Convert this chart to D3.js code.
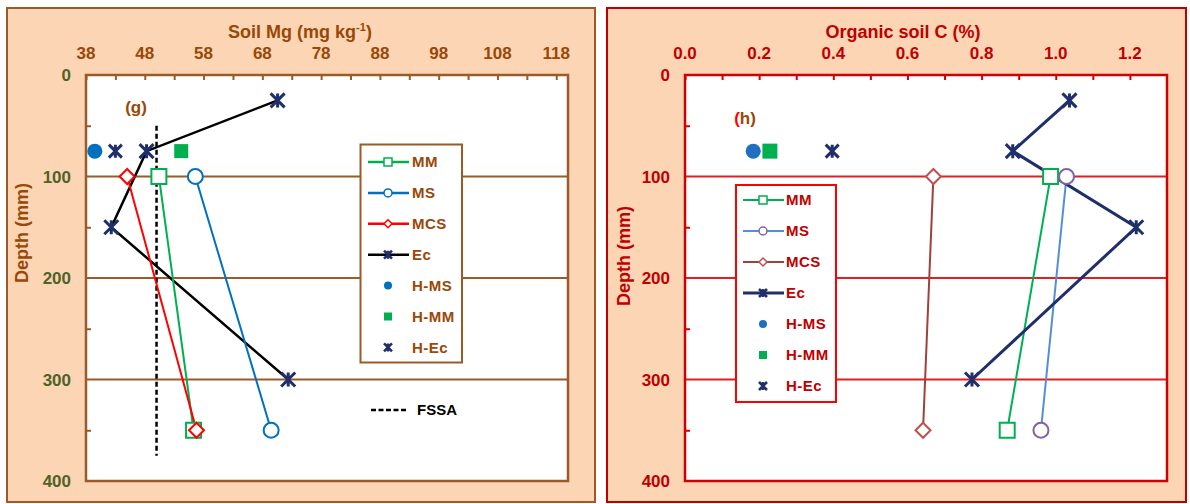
<!DOCTYPE html>
<html><head><meta charset="utf-8">
<script src="https://cdn.jsdelivr.net/npm/d3@7"></script>
<style>
body{margin:0;background:#fff}
svg{display:block}
text{font-family:"Liberation Sans",Arial,sans-serif;font-weight:bold}
</style>
</head><body>
<svg id="c" width="1190" height="504"></svg>
<script>
// ---------- data ----------
const depthTicks = [0, 100, 200, 300, 400];
const mgTicks = [38, 48, 58, 68, 78, 88, 98, 108, 118];
const cTicks = [0.0, 0.2, 0.4, 0.6, 0.8, 1.0, 1.2];

const ecDepths = [25, 75, 150, 300];
const pairDepths = [100, 350];
const hDepth = 75;

// Panel (g): Soil Mg (mg kg-1)
const mgEc  = [70.6, 48.3, 42.3, 72.4];
const mgMM  = [50.4, 56.3];
const mgMS  = [56.6, 69.5];
const mgMCS = [45.0, 56.8];
const mgHMS = [39.5];
const mgHMM = [54.2];
const mgHEc = [43.0];
const fssaValue = 50;
const fssaDepths = [50, 375];

// Panel (h): Organic soil C (%)
const cEc  = [1.037, 0.884, 1.217, 0.774];
const cMM  = [0.986, 0.869];
const cMS  = [1.029, 0.960];
const cMCS = [0.670, 0.642];
const cHMS = [0.184];
const cHMM = [0.229];
const cHEc = [0.397];

const legendNames = ["MM", "MS", "MCS", "Ec", "H-MS", "H-MM", "H-Ec"];

// ---------- drawing ----------
const svg = d3.select("#c");

function starPath(s){ return `M${-s},${-s}L${s},${s}M${-s},${s}L${s},${-s}M0,${-s}L0,${s}`; }

function marker(g, type, x, y, size, stroke, fill, sw){
  if(type==="square"){
    g.append("rect").attr("x",x-size/2).attr("y",y-size/2).attr("width",size).attr("height",size)
      .attr("fill",fill).attr("stroke",stroke).attr("stroke-width",sw);
  } else if(type==="circle"){
    g.append("circle").attr("cx",x).attr("cy",y).attr("r",size/2)
      .attr("fill",fill).attr("stroke",stroke).attr("stroke-width",sw);
  } else if(type==="diamond"){
    const s=size/2;
    g.append("path").attr("d",`M${x},${y-s}L${x+s},${y}L${x},${y+s}L${x-s},${y}Z`)
      .attr("fill",fill).attr("stroke",stroke).attr("stroke-width",sw);
  } else if(type==="star"){
    g.append("path").attr("transform",`translate(${x},${y})`).attr("d",starPath(size/2))
      .attr("fill","none").attr("stroke",stroke).attr("stroke-width",sw);
  }
}

function panel(cfg){
  const g = svg.append("g");
  g.append("rect").attr("x",cfg.ox0).attr("y",8).attr("width",cfg.ox1-cfg.ox0).attr("height",494)
    .attr("fill","#FCD5B5").attr("stroke",cfg.outer).attr("stroke-width",2);
  const x = d3.scaleLinear().domain(cfg.xDomain).range([cfg.px0, cfg.px1]);
  const y = d3.scaleLinear().domain([0,400]).range([75,481]);
  g.append("rect").attr("x",cfg.px0).attr("y",75).attr("width",cfg.px1-cfg.px0).attr("height",406)
    .attr("fill","#fff");
  g.selectAll(".grid").data([100,200,300]).enter().append("line")
    .attr("x1",cfg.px0).attr("x2",cfg.px1).attr("y1",d=>y(d)).attr("y2",d=>y(d))
    .attr("stroke",cfg.grid).attr("stroke-width",2);
  const topAxis = d3.axisTop(x).tickValues(cfg.minorX).tickSize(-5).tickFormat("");
  const ta = g.append("g").attr("transform","translate(0,75)").call(topAxis);
  ta.select(".domain").remove();
  ta.selectAll("line").attr("stroke",cfg.axis).attr("stroke-width",2);
  g.selectAll(".xl").data(cfg.xTicks).enter().append("text")
    .attr("x",d=>x(d)).attr("y",59).attr("text-anchor","middle")
    .attr("font-size",17).attr("fill",cfg.xLabel).text(cfg.xFmt);
  const leftAxis = d3.axisLeft(y).tickValues([50,150,250,350]).tickSize(-5).tickFormat("");
  const la = g.append("g").attr("transform",`translate(${cfg.px0},0)`).call(leftAxis);
  la.select(".domain").remove();
  la.selectAll("line").attr("stroke",cfg.axis).attr("stroke-width",2);
  g.selectAll(".yl").data(depthTicks).enter().append("text")
    .attr("x",cfg.px0-15).attr("y",d=>y(d)).attr("dy","0.36em").attr("text-anchor","end")
    .attr("font-size",17).attr("fill",cfg.yLabel).text(d=>d);
  g.append("rect").attr("x",cfg.px0).attr("y",75).attr("width",cfg.px1-cfg.px0).attr("height",406)
    .attr("fill","none").attr("stroke",cfg.axis).attr("stroke-width",2.5);
  cfg.title(g);
  g.append("text").attr("transform",`translate(${cfg.yTitleX},${cfg.yTitleY}) rotate(-90)`)
    .attr("text-anchor","middle").attr("font-size",18).attr("fill",cfg.yTitle).text("Depth (mm)");
  return {g,x,y};
}

// ===== Panel g =====
{
  const minor = d3.range(38, 119, 5);
  const P = panel({
    ox0:7, ox1:595, px0:86, px1:568, xDomain:[38,120], xTicks:mgTicks, minorX:minor,
    xFmt:d=>d, outer:"#9C5A28", grid:"#9C5A28", axis:"#9C5A28",
    xLabel:"#984807", yLabel:"#4F6228", yTitle:"#984807", yTitleX:28, yTitleY:233,
    title:(g)=>{
      const t=g.append("text").attr("x",300).attr("y",38).attr("text-anchor","middle")
        .attr("font-size",18).attr("fill","#984807");
      t.append("tspan").text("Soil Mg  (mg kg");
      t.append("tspan").attr("dy",-7).attr("font-size",11).text("-1");
      t.append("tspan").attr("dy",7).text(")");
    }
  });
  const {g,x,y} = P;
  g.append("text").attr("x",136).attr("y",113).attr("text-anchor","middle").attr("font-size",17)
    .attr("fill","#984807").text("(g)");
  g.append("line").attr("x1",x(fssaValue)).attr("x2",x(fssaValue)).attr("y1",y(fssaDepths[0])).attr("y2",y(fssaDepths[1]))
    .attr("stroke","#000").attr("stroke-width",2.5).attr("stroke-dasharray","5,3");
  const line = d3.line().x(d=>x(d[0])).y(d=>y(d[1]));
  const series = [
    {v:mgMM, d:pairDepths, c:"#00B050", m:"square", mc:"#00B050", w:2},
    {v:mgMS, d:pairDepths, c:"#0070C0", m:"circle", mc:"#0070C0", w:2},
    {v:mgMCS, d:pairDepths, c:"#FF0000", m:"diamond", mc:"#FF0000", w:2},
  ];
  g.append("path").attr("d",line(mgEc.map((v,i)=>[v,ecDepths[i]]))).attr("fill","none")
    .attr("stroke","#000").attr("stroke-width",2.5);
  series.forEach(s=>{
    g.append("path").attr("d",line(s.v.map((v,i)=>[v,s.d[i]]))).attr("fill","none")
      .attr("stroke",s.c).attr("stroke-width",s.w);
  });
  series.forEach(s=>{
    s.v.forEach((v,i)=>marker(g,s.m,x(v),y(s.d[i]),15,s.mc,"#fff",2));
  });
  mgEc.forEach((v,i)=>marker(g,"star",x(v),y(ecDepths[i]),14,"#1F2F6B",null,3));
  mgHMS.forEach(v=>marker(g,"circle",x(v),y(hDepth),15,"#0070C0","#0070C0",0));
  mgHMM.forEach(v=>marker(g,"square",x(v),y(hDepth),14,"#00B050","#00B050",0));
  mgHEc.forEach(v=>marker(g,"star",x(v),y(hDepth),13,"#1F2F6B",null,3));
  const lg=g.append("g");
  lg.append("rect").attr("x",360.5).attr("y",144.5).attr("width",101.5).attr("height",218)
    .attr("fill","#fff").attr("stroke","#9C5A28").attr("stroke-width",2);
  const items=[
    {line:"#00B050", m:"square", mc:"#00B050", f:"#fff"},
    {line:"#0070C0", m:"circle", mc:"#0070C0", f:"#fff"},
    {line:"#FF0000", m:"diamond", mc:"#FF0000", f:"#fff"},
    {line:"#000", m:"star", mc:"#1F2F6B", f:null},
    {line:null, m:"circle", mc:"#0070C0", f:"#0070C0"},
    {line:null, m:"square", mc:"#00B050", f:"#00B050"},
    {line:null, m:"star", mc:"#1F2F6B", f:null},
  ];
  items.forEach((it,i)=>{
    const yy=162+i*30.9;
    if(it.line) lg.append("line").attr("x1",368).attr("x2",409).attr("y1",yy).attr("y2",yy)
      .attr("stroke",it.line).attr("stroke-width",2.5);
    marker(lg,it.m,388,yy,8,it.mc,it.f,it.f&&it.f!=="#fff"?0:(it.m==="star"?2.5:1.5));
    lg.append("text").attr("x",412).attr("y",yy).attr("dy","0.36em").attr("font-size",15)
      .attr("letter-spacing",0.5).attr("fill","#984807").text(legendNames[i]);
  });
  lg.append("line").attr("x1",371).attr("x2",406).attr("y1",410).attr("y2",410)
    .attr("stroke","#000").attr("stroke-width",2.5).attr("stroke-dasharray","5,2.5");
  lg.append("text").attr("x",417).attr("y",410).attr("dy","0.36em").attr("font-size",15)
    .attr("fill","#000").text("FSSA");
}

// ===== Panel h =====
{
  const minor = d3.range(0, 1.25, 0.1);
  const P = panel({
    ox0:607, ox1:1186, px0:685, px1:1167, xDomain:[0,1.3], xTicks:cTicks, minorX:minor,
    xFmt:d=>d3.format(".1f")(d), outer:"#C00000", grid:"#E02020", axis:"#D00000",
    xLabel:"#C00000", yLabel:"#C00000", yTitle:"#C00000", yTitleX:630, yTitleY:256,
    title:(g)=>{
      g.append("text").attr("x",903).attr("y",38).attr("text-anchor","middle")
        .attr("font-size",18).attr("fill","#C00000").text("Organic soil C (%)");
    }
  });
  const {g,x,y} = P;
  const ht=g.append("text").attr("x",745).attr("y",124).attr("text-anchor","middle").attr("font-size",17);
  ht.append("tspan").attr("fill","#FF0000").text("(");
  ht.append("tspan").attr("fill","#984807").text("h)");
  const line = d3.line().x(d=>x(d[0])).y(d=>y(d[1]));
  const series = [
    {v:cMCS, c:"#A0403C", m:"diamond", mc:"#C0504D"},
    {v:cMM, c:"#00B050", m:"square", mc:"#00B050"},
    {v:cMS, c:"#558ED5", m:"circle", mc:"#8064A2"},
  ];
  series.forEach(s=>{
    g.append("path").attr("d",line(s.v.map((v,i)=>[v,pairDepths[i]]))).attr("fill","none")
      .attr("stroke",s.c).attr("stroke-width",2);
  });
  g.append("path").attr("d",line(cEc.map((v,i)=>[v,ecDepths[i]]))).attr("fill","none")
    .attr("stroke","#1F2F6B").attr("stroke-width",3);
  series.forEach(s=>{
    s.v.forEach((v,i)=>marker(g,s.m,x(v),y(pairDepths[i]),15,s.mc,"#fff",2));
  });
  cEc.forEach((v,i)=>marker(g,"star",x(v),y(ecDepths[i]),14,"#1F2F6B",null,3));
  cHMS.forEach(v=>marker(g,"circle",x(v),y(hDepth),15,"#1F70C0","#1F70C0",0));
  cHMM.forEach(v=>marker(g,"square",x(v),y(hDepth),15,"#00B050","#00B050",0));
  cHEc.forEach(v=>marker(g,"star",x(v),y(hDepth),13,"#1F2F6B",null,3));
  const lg=g.append("g");
  lg.append("rect").attr("x",736).attr("y",185).attr("width",100).attr("height",217)
    .attr("fill","#fff").attr("stroke","#FF0000").attr("stroke-width",2);
  const items=[
    {line:"#00B050", m:"square", mc:"#00B050", f:"#fff"},
    {line:"#558ED5", m:"circle", mc:"#8064A2", f:"#fff"},
    {line:"#A0403C", m:"diamond", mc:"#C0504D", f:"#fff"},
    {line:"#1F2F6B", m:"star", mc:"#1F2F6B", f:null},
    {line:null, m:"circle", mc:"#1F70C0", f:"#1F70C0"},
    {line:null, m:"square", mc:"#00B050", f:"#00B050"},
    {line:null, m:"star", mc:"#1F2F6B", f:null},
  ];
  items.forEach((it,i)=>{
    const yy=200+i*31;
    if(it.line) lg.append("line").attr("x1",743).attr("x2",784).attr("y1",yy).attr("y2",yy)
      .attr("stroke",it.line).attr("stroke-width",it.m==="star"?3:2);
    marker(lg,it.m,763,yy,8,it.mc,it.f,it.f&&it.f!=="#fff"?0:(it.m==="star"?2.5:1.5));
    lg.append("text").attr("x",786).attr("y",yy).attr("dy","0.36em").attr("font-size",15)
      .attr("letter-spacing",0.5).attr("fill","#C00000").text(legendNames[i]);
  });
}
</script>
</body></html>
